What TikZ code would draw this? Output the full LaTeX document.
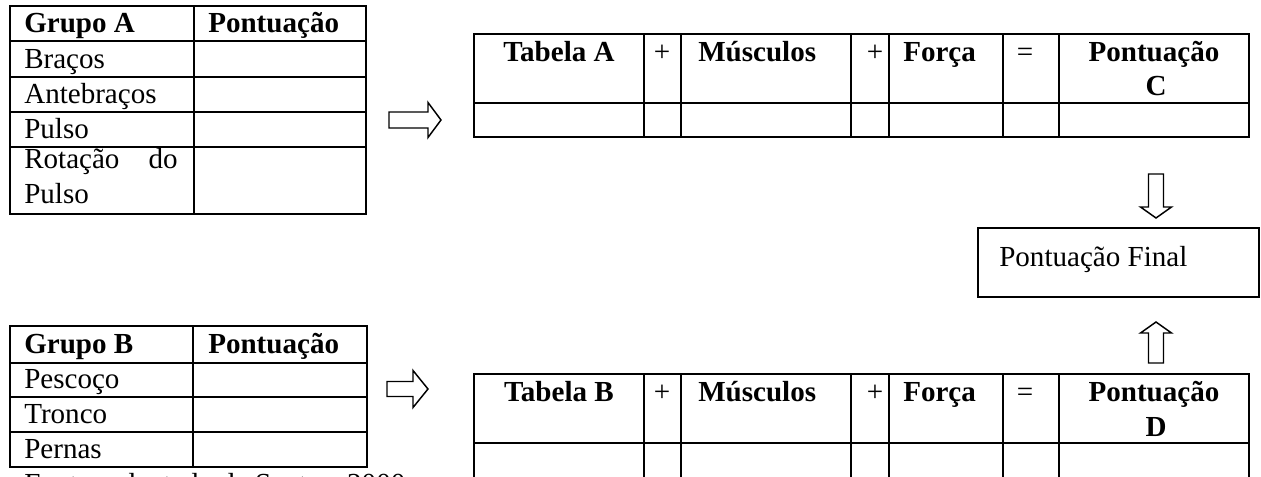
\documentclass[tikz,border=0pt]{standalone}
\usepackage{fontspec}
\setmainfont{Liberation Serif}
\begin{document}
\begin{tikzpicture}[x=0.75pt,y=-0.75pt,
  tab/.style={line width=1.5pt,line cap=rect},
  arr/.style={line width=1.1pt,line join=miter,fill=white},
  txt/.style={inner sep=0pt,font=\fontsize{21.8}{26}\selectfont},
  lt/.style={txt,anchor=base west},
  ct/.style={txt,anchor=base}]
\clip (0,0) rectangle (1261,477);
\fill[white] (0,0) rectangle (1261,477);

% ---------- Grupo A ----------
\draw[tab] (10,6) rectangle (366,214);
\draw[tab] (194,6) -- (194,214);
\foreach \yy in {41,77,112,147} \draw[tab] (10,\yy) -- (366,\yy);
\node[lt] (ga)  at (24,33)  {\textbf{Grupo A}};
\node[lt] (gap) at (208,33) {\textbf{Pontuação}};
\node[lt] (a1) at (24,69)  {Braços};
\node[lt] (a2) at (24,104) {Antebraços};
\node[lt] (a3) at (24,139) {Pulso};
\node[lt] (a4) at (24,169) {Rotação};
\node[txt,anchor=base east] (a4b) at (178,169) {do};
\node[lt] (a5) at (24,204) {Pulso};

% ---------- Grupo B ----------
\draw[tab] (10,326) rectangle (367,467);
\draw[tab] (193,326) -- (193,467);
\foreach \yy in {363,397,432} \draw[tab] (10,\yy) -- (367,\yy);
\node[lt] (gb)  at (24,354)  {\textbf{Grupo B}};
\node[lt] (gbp) at (208,354) {\textbf{Pontuação}};
\node[lt] (b1) at (24,389) {Pescoço};
\node[lt] (b2) at (24,424) {Tronco};
\node[lt] (b3) at (24,459) {Pernas};
\node[lt] (fonte) at (24,493) {Fonte: adaptado de Santos, 2000};

% ---------- Tabela A ----------
\draw[tab] (474,34) rectangle (1249,137);
\draw[tab] (474,103) -- (1249,103);
\foreach \xx in {644,681,851,889,1003,1059} \draw[tab] (\xx,34) -- (\xx,137);
\node[ct] (ta)  at (559,62)  {\textbf{Tabela A}};
\node[ct] (tp1) at (662,62)  {+};
\node[lt] (tm)  at (698,62)  {\textbf{Músculos}};
\node[ct] (tp2) at (875,62)  {+};
\node[lt] (tf)  at (903,62)  {\textbf{Força}};
\node[ct] (teq) at (1025,62) {=};
\node[ct] (tpc) at (1154,62) {\textbf{Pontuação}};
\node[ct] (tc)  at (1156,96) {\textbf{C}};

% ---------- Tabela B ----------
\draw[tab] (474,374) -- (1249,374);
\draw[tab] (474,443) -- (1249,443);
\foreach \xx in {474,644,681,851,889,1003,1059,1249} \draw[tab] (\xx,374) -- (\xx,490);
\node[ct] (tb)  at (559,402)  {\textbf{Tabela B}};
\node[ct] (up1) at (662,402)  {+};
\node[lt] (um)  at (698,402)  {\textbf{Músculos}};
\node[ct] (up2) at (875,402)  {+};
\node[lt] (uf)  at (903,402)  {\textbf{Força}};
\node[ct] (ueq) at (1025,402) {=};
\node[ct] (upd) at (1154,402) {\textbf{Pontuação}};
\node[ct] (ud)  at (1156,436) {\textbf{D}};

% ---------- Pontuação Final ----------
\draw[line width=1.5pt] (978,228) rectangle (1259,297);
\node[lt] (final) at (999,267) {Pontuação Final};

% ---------- block arrows ----------
\coordinate (ra) at (389,120);
\draw[arr,shift={(ra)}] (0,-8) -- (39,-8) -- (39,-17.5) -- (52,0) -- (39,17.5) -- (39,8) -- (0,8) -- cycle;
\coordinate (rb) at (387,389);
\draw[arr,shift={(rb)}] (0,-7.5) -- (26,-7.5) -- (26,-18.5) -- (41,0) -- (26,18.5) -- (26,7.5) -- (0,7.5) -- cycle;
\coordinate (da) at (1156,174);
\draw[arr,shift={(da)}] (-7.5,0) -- (-7.5,33) -- (-15.5,33) -- (0,44) -- (15.5,33) -- (7.5,33) -- (7.5,0) -- cycle;
\coordinate (ua) at (1156,363);
\draw[arr,shift={(ua)}] (-7.5,0) -- (-7.5,-30) -- (-15.5,-30) -- (0,-41) -- (15.5,-30) -- (7.5,-30) -- (7.5,0) -- cycle;
\end{tikzpicture}
\end{document}
